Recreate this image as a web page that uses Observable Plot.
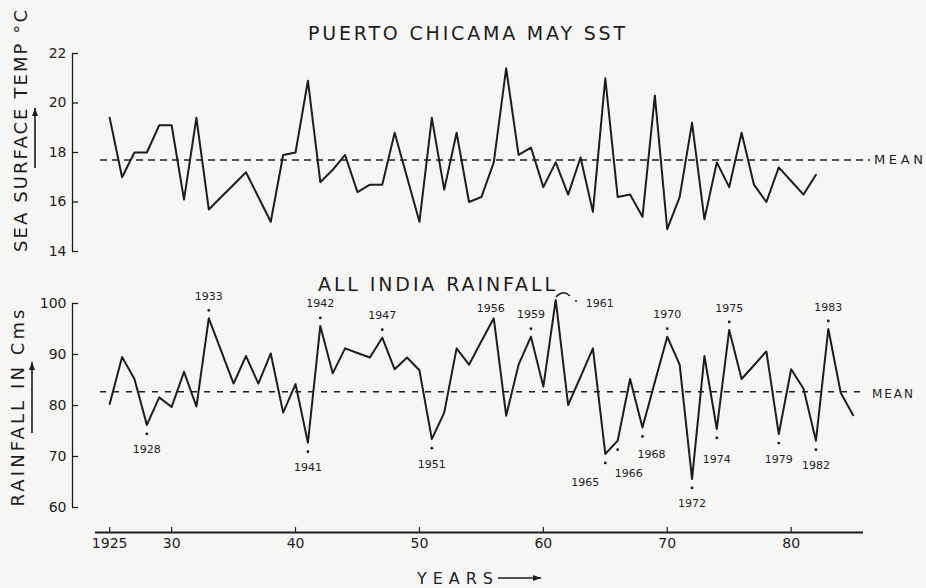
<!DOCTYPE html>
<html><head><meta charset="utf-8">
<script src="https://cdn.jsdelivr.net/npm/d3@7"></script>
<script src="https://cdn.jsdelivr.net/npm/@observablehq/plot@0.6"></script>
<style>
html,body{margin:0;padding:0;background:#f6f6f4;}
#fig{position:relative;width:926px;height:588px;overflow:hidden;font-family:"DejaVu Sans",sans-serif;color:#222;}
#fig > svg{position:absolute;left:0;}
</style></head><body><div id="fig"></div>
<script>
// ---- data ----
const sstYears = [1925,1926,1927,1928,1929,1930,1931,1932,1933,1934,1935,1936,1937,1938,1939,1940,1941,1942,1943,1944,1945,1946,1947,1948,1949,1950,1951,1952,1953,1954,1955,1956,1957,1958,1959,1960,1961,1962,1963,1964,1965,1966,1967,1968,1969,1970,1971,1972,1973,1974,1975,1976,1977,1978,1979,1980,1981,1982];
const sstValues = [19.4,17.0,18.0,18.0,19.1,19.1,16.1,19.4,15.7,16.2,16.7,17.2,16.2,15.2,17.9,18.0,20.9,16.8,17.3,17.9,16.4,16.7,16.7,18.8,17.0,15.2,19.4,16.5,18.8,16.0,16.2,17.6,21.4,17.9,18.2,16.6,17.6,16.3,17.8,15.6,21.0,16.2,16.3,15.4,20.3,14.9,16.2,19.2,15.3,17.6,16.6,18.8,16.7,16.0,17.4,16.85,16.3,17.1];
const sstMean = 17.7;
const sstTicks = [14,16,18,20,22];

const rainYears = [1925,1926,1927,1928,1929,1930,1931,1932,1933,1934,1935,1936,1937,1938,1939,1940,1941,1942,1943,1944,1945,1946,1947,1948,1949,1950,1951,1952,1953,1954,1955,1956,1957,1958,1959,1960,1961,1962,1963,1964,1965,1966,1967,1968,1969,1970,1971,1972,1973,1974,1975,1976,1977,1978,1979,1980,1981,1982,1983,1984,1985];
const rainValues = [80.3,89.5,85.2,76.2,81.6,79.7,86.6,79.8,97.1,90.7,84.3,89.7,84.3,90.2,78.6,84.2,72.7,95.6,86.3,91.2,90.3,89.4,93.3,87.1,89.4,86.9,73.4,78.6,91.2,88.0,92.6,97.1,78.0,88.0,93.5,83.7,100.7,80.1,85.6,91.2,70.5,73.1,85.2,75.7,84.6,93.5,88.0,65.6,89.7,75.4,94.8,85.2,87.9,90.6,74.4,87.1,83.3,73.1,95.0,82.5,78.1];
const rainMean = 82.7;
const rainTicks = [60,70,80,90,100];
const rainLabelYears = [1928,1933,1941,1942,1947,1951,1956,1959,1961,1965,1966,1968,1970,1972,1974,1975,1979,1982,1983];

const xDomain = [1922, 1986];
const xTicks = [1925,1930,1940,1950,1960,1970,1980];
const xTickLabels = ["1925","30","40","50","60","70","80"];

// ---- build ----
const ink = "#1d1d1d";
const W = 926, ML = 72, MR = 61;
const frameW = W - ML - MR;
const sst = sstYears.map((y,i)=>({year:y, value:sstValues[i]}));
const rain = rainYears.map((y,i)=>({year:y, value:rainValues[i]}));
const labelled = rain.filter(d => rainLabelYears.includes(d.year));
// label placement (layout only): default above for peaks, below for troughs; a few nudged
const nudge = {1956:[-3,12], 1961:[44,26], 1965:[-20,4], 1966:[11,8], 1968:[9,2], 1974:[0,6]};
const plain = labelled.filter(d => !(d.year in nudge));
const above = plain.filter(d => d.value > rainMean);
const below = plain.filter(d => d.value <= rainMean);
const dotted = labelled.filter(d => d.year !== 1956 && d.year !== 1961);
const dotAbove = dotted.filter(d => d.value > rainMean);
const dotBelow = dotted.filter(d => d.value <= rainMean);
const nudgedMarks = labelled.filter(d => d.year in nudge).map(d => {
  const [dx, extra] = nudge[d.year];
  const dy = d.value > rainMean ? -22 + extra : 25 + extra;
  return Plot.text([d], {x:"year", y:"value", text:q=>String(q.year), dx, dy, fontSize:11, fill:ink});
});

const style = {background:"transparent", color:ink, fontFamily:"DejaVu Sans, sans-serif", overflow:"visible"};
const fig = document.getElementById("fig");

const topH = 262, topMT = 53, topMB = 11;
const topPlot = Plot.plot({
  width:W, height:topH, marginLeft:ML, marginRight:MR, marginTop:topMT, marginBottom:topMB,
  style,
  x:{domain:xDomain, axis:null},
  y:{domain:[14,22], label:null},
  marks:[
    Plot.ruleX([xDomain[0]], {stroke:ink, strokeWidth:1.3}),
    Plot.ruleY(sstTicks, {stroke:ink, strokeWidth:1.3, insetRight:frameW-6}),
    Plot.axisY(sstTicks, {anchor:"left", tickSize:0, tickPadding:6, fontSize:14, label:null}),
    Plot.ruleY([sstMean], {stroke:ink, strokeWidth:1.5, strokeDasharray:"7,5", insetLeft:28, insetRight:-5}),
    Plot.line(sst, {x:"year", y:"value", stroke:ink, strokeWidth:2})
  ]
});
topPlot.style.top = "0px";
fig.appendChild(topPlot);

const botH = 326, botMT = 41, botMB = 81;
const frameH = botH - botMT - botMB;
const botPlot = Plot.plot({
  width:W, height:botH, marginLeft:ML, marginRight:MR, marginTop:botMT, marginBottom:botMB,
  style,
  x:{domain:xDomain, label:null},
  y:{domain:[60,100], label:null},
  marks:[
    Plot.ruleX([xDomain[0]], {stroke:ink, strokeWidth:1.3}),
    Plot.ruleY(rainTicks, {stroke:ink, strokeWidth:1.3, insetRight:frameW-6}),
    Plot.axisY(rainTicks, {anchor:"left", tickSize:0, tickPadding:6, fontSize:14, label:null}),
    Plot.ruleY([rainMean], {stroke:ink, strokeWidth:1.3, strokeDasharray:"6,7", insetLeft:28, insetRight:3}),
    Plot.line(rain, {x:"year", y:"value", stroke:ink, strokeWidth:2}),
    Plot.dot(dotAbove, {x:"year", y:"value", r:1.4, fill:ink, stroke:null, dy:-8}),
    Plot.dot(dotBelow, {x:"year", y:"value", r:1.4, fill:ink, stroke:null, dy:9}),
    Plot.text(above, {x:"year", y:"value", text:d=>String(d.year), dy:-22, fontSize:11, fill:ink}),
    Plot.text(below, {x:"year", y:"value", text:d=>String(d.year), dy:25, fontSize:11, fill:ink}),
    ...nudgedMarks,
    Plot.ruleY([60], {dy:25, insetLeft:23, insetRight:2, stroke:ink, strokeWidth:2}),
    Plot.ruleX(xTicks, {dy:25, insetTop:frameH-5, stroke:ink, strokeWidth:1.2}),
    Plot.axisX(xTicks, {anchor:"bottom", dy:25, tickSize:0, tickPadding:6, fontSize:14, label:null,
      tickFormat:d => xTickLabels[xTicks.indexOf(d)]})
  ]
});
botPlot.style.top = "262px";
fig.appendChild(botPlot);

// ---- overlay texts ----
const ov = d3.create("svg").attr("width",926).attr("height",588)
  .style("position","absolute").style("top","0px").style("left","0px")
  .style("font-family","DejaVu Sans, sans-serif").attr("fill",ink);
function txt(s, x, y, size, len, opts={}) {
  const t = ov.append("text").attr("x",x).attr("y",y).attr("font-size",size).text(s);
  if (len) t.attr("textLength",len).attr("lengthAdjust","spacing");
  if (opts.anchor) t.attr("text-anchor",opts.anchor);
  if (opts.transform) t.attr("transform",opts.transform);
  return t;
}
txt("PUERTO CHICAMA MAY SST", 308, 40, 19, 317);
txt("ALL INDIA RAINFALL", 318, 291, 19, 237);
txt("SEA SURFACE TEMP °C", 0, 0, 18, 242, {anchor:"middle", transform:"translate(27,131) rotate(-90)"});
txt("RAINFALL IN Cms", 0, 0, 18, 197, {anchor:"middle", transform:"translate(24,408) rotate(-90)"});
txt("MEAN", 874, 164, 13, 49);
txt("MEAN", 872, 398, 12, 41);
txt("YEARS", 417, 584, 16, 76);
// arrows
function arrow(x1,y1,x2,y2){
  ov.append("line").attr("x1",x1).attr("y1",y1).attr("x2",x2).attr("y2",y2).attr("stroke",ink).attr("stroke-width",1.6);
  const a = Math.atan2(y2-y1, x2-x1), L=8, Wd=3;
  const p = [[x2,y2],[x2-L*Math.cos(a)+Wd*Math.sin(a), y2-L*Math.sin(a)-Wd*Math.cos(a)],[x2-L*Math.cos(a)-Wd*Math.sin(a), y2-L*Math.sin(a)+Wd*Math.cos(a)]];
  ov.append("polygon").attr("points",p.map(q=>q.join(",")).join(" ")).attr("fill",ink);
}
arrow(35,168,35,108);
arrow(32,433,32,362);
arrow(498,578,541,578);
// curved leader for 1961
ov.append("path").attr("d","M556,297 Q563,289 570,296").attr("fill","none").attr("stroke",ink).attr("stroke-width",1.3);
ov.append("circle").attr("cx",576).attr("cy",301).attr("r",1).attr("fill",ink);
fig.appendChild(ov.node());
</script></body></html>
